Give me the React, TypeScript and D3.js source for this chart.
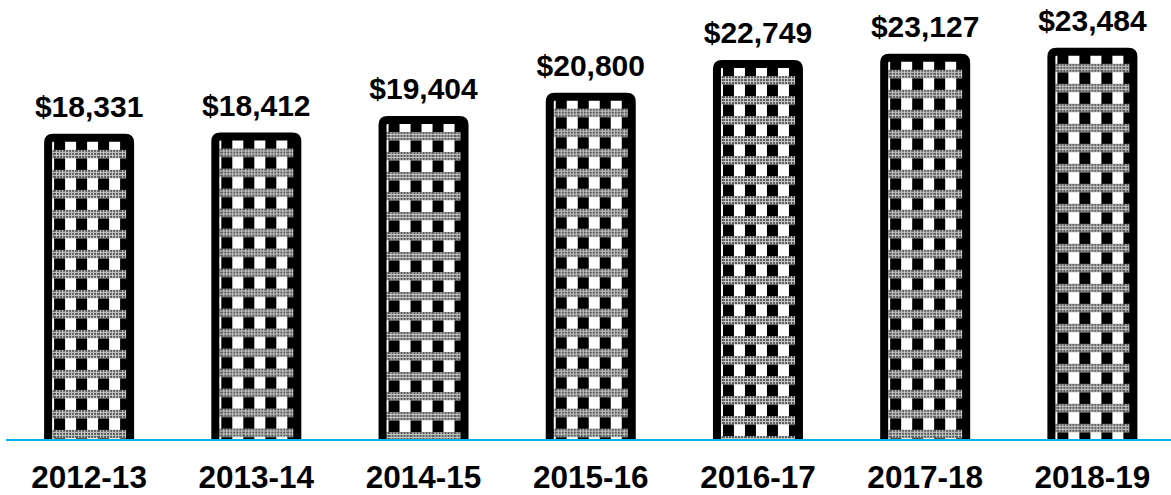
import React from "react";
import * as d3 from "d3";

const categories = ["2012-13", "2013-14", "2014-15", "2015-16", "2016-17", "2017-18", "2018-19"];
const values = [18331, 18412, 19404, 20800, 22749, 23127, 23484];
const valueLabels = ["$18,331", "$18,412", "$19,404", "$20,800", "$22,749", "$23,127", "$23,484"];

const W = 1171;
const H = 495;
const baseY = 440;

export default function App() {
  const x = d3.scaleBand<string>().domain(categories).range([5.5, 1176]).paddingInner(0).paddingOuter(0);
  const y = d3.scaleLinear().domain([0, 25000]).range([baseY, baseY - 417.5]);
  const barW = 90;
  const bw = 8;
  const r = 5;
  const font = "'Liberation Sans', Arial, Helvetica, sans-serif";

  return (
    <svg width={W} height={H} style={{ position: "absolute", left: 0, top: 0, background: "#fff" }}>
      <defs>
        <pattern id="dots" patternUnits="userSpaceOnUse" width={3} height={3}>
          <rect width={3} height={3} fill="#c8c8c8" />
          <rect x={0} y={0} width={2} height={2} fill="#5a5a5a" />
        </pattern>
        {categories.map((c, i) => {
          const cx = (x(c) as number) + x.bandwidth() / 2;
          const left = cx - barW / 2;
          const top = y(values[i]);
          return (
            <pattern key={c} id={`pat${i}`} patternUnits="userSpaceOnUse" width={22} height={20} x={left + 10} y={top + 16}>
              <rect width={22} height={20} fill="#fff" />
              <rect x={0} y={8} width={11} height={12} fill="#000" />
              <rect x={0} y={0} width={22} height={8.5} fill="url(#dots)" />
            </pattern>
          );
        })}
      </defs>
      {categories.map((c, i) => {
        const cx = (x(c) as number) + x.bandwidth() / 2;
        const left = cx - barW / 2 + bw / 2;
        const right = cx + barW / 2 - bw / 2;
        const top = y(values[i]) + bw / 2;
        const d = `M${left},${baseY} L${left},${top + r} Q${left},${top} ${left + r},${top} L${right - r},${top} Q${right},${top} ${right},${top + r} L${right},${baseY}`;
        return (
          <g key={c}>
            <path d={d} fill={`url(#pat${i})`} stroke="#000" strokeWidth={bw} />
            <text x={cx} y={y(values[i]) - 17} textAnchor="middle" fontFamily={font} fontWeight="bold" fontSize={30} fill="#000">
              {valueLabels[i]}
            </text>
            <text x={cx} y={488} textAnchor="middle" fontFamily={font} fontWeight="bold" fontSize={31.5} fill="#000">
              {c}
            </text>
          </g>
        );
      })}
      <line x1={6} x2={W} y1={baseY} y2={baseY} stroke="#00b0f0" strokeWidth={2} />
    </svg>
  );
}
